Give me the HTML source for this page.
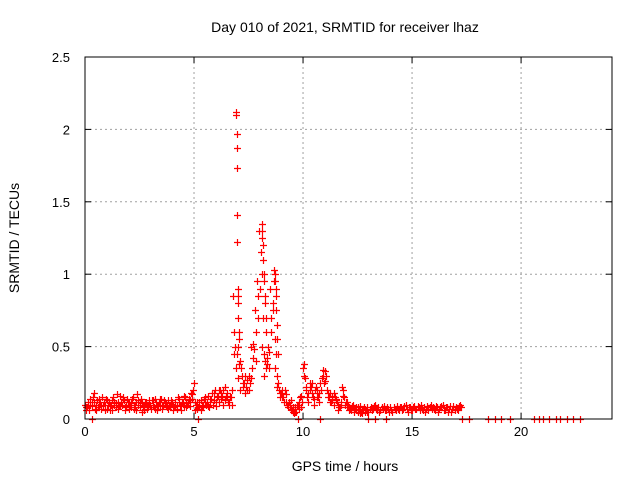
<!DOCTYPE html>
<html><head><meta charset="utf-8"><style>
body{margin:0;background:#fff;}
svg{display:block;font-family:"Liberation Sans",sans-serif;}
</style></head><body>
<svg id="chart" width="640" height="480" viewBox="0 0 640 480" xmlns="http://www.w3.org/2000/svg">
<text x="345" y="32" font-size="14" text-anchor="middle">Day 010 of 2021, SRMTID for receiver lhaz</text>
<g id="grid"></g>
<g id="ticks"></g>
<g id="marks"></g>
<rect x="85" y="57" width="527" height="362" fill="none" stroke="#000" stroke-width="1"/>
<text x="345" y="471" font-size="14" text-anchor="middle">GPS time / hours</text>
<text transform="translate(19,238) rotate(-90)" font-size="14" text-anchor="middle">SRMTID / TECUs</text>
</svg>
<script>
const xTicks=[0,5,10,15,20];
const yTicks=[0,0.5,1,1.5,2,2.5];
const yTickLabels=["0","0.5","1","1.5","2","2.5"];
const step=0.1;
const v1=[0.1,0.08,0.06,0.12,0.18,0.1,0.08,0.12,0.15,0.1,
0.07,0.12,0.1,0.15,0.08,0.12,0.16,0.1,0.13,0.09,
0.12,0.08,0.15,0.1,0.17,0.12,0.05,0.09,0.12,0.08,
0.1,0.13,0.07,0.1,0.12,0.14,0.09,0.11,0.13,0.1,
0.12,0.08,0.1,0.14,0.09,0.12,0.15,0.1,0.13,0.17,
0.25,0.1,0.08,0.13,0.1,0.15,0.12,0.08,0.14,0.18,
0.12,0.16,0.2,0.15,0.13,0.18,0.1,0.15,0.85,0.5,
0.5,0.4,0.3,0.25,0.22,0.3,0.5,0.42,0.75,0.95,
1.3,1.0,0.45,0.35,0.5,0.9,0.8,0.55,0.3,0.2,
0.18,0.15,0.12,0.08,0.1,0.06,0.04,0.05,0.12,0.08,
0.35,0.28,0.15,0.2,0.25,0.1,0.22,0.15,0.25,0.3,
0.33,0.2,0.15,0.12,0.18,0.14,0.1,0.08,0.22,0.15,
0.12,0.08,0.06,0.1,0.07,0.05,0.09,0.04,0.08,0.06,
0.05,0.08,0.07,0.1,0.06,0.05,0.08,0.09,0.06,0.07,
0.08,0.05,0.07,0.09,0.06,0.08,0.07,0.1,0.05,0.08,
0.06,0.09,0.07,0.08,0.1,0.06,0.05,0.09,0.08,0.07,
0.07,0.09,0.05,0.08,0.1,0.06,0.08,0.07,0.05,0.09,
0.08,0.06,0.1];
const v2=[0.08,0.12,0.1,0.15,0.07,0.13,0.1,0.09,0.12,0.14,
0.1,0.06,0.13,0.1,0.17,0.09,0.12,0.14,0.08,0.12,
0.1,0.14,0.07,0.12,0.1,0.14,0.08,0.12,0.07,0.11,
0.13,0.08,0.12,0.09,0.14,0.1,0.12,0.08,0.1,0.13,
0.09,0.12,0.15,0.1,0.12,0.16,0.11,0.14,0.18,0.2,
0.12,0.07,0.12,0.09,0.14,0.1,0.16,0.12,0.1,0.2,
0.15,0.12,0.18,0.2,0.16,0.12,0.15,0.2,0.6,0.45,
0.38,0.35,0.25,0.3,0.2,0.25,0.35,0.48,0.6,0.85,
1.15,0.7,0.4,0.42,0.35,0.7,0.95,0.45,0.25,0.18,
0.15,0.2,0.1,0.12,0.07,0.08,0.05,0.1,0.15,0.12,
0.3,0.2,0.18,0.22,0.15,0.2,0.15,0.12,0.28,0.25,
0.3,0.15,0.18,0.13,0.15,0.12,0.08,0.1,0.2,0.12,
0.1,0.07,0.08,0.06,0.08,0.07,0.05,0.06,0.07,0.05,
0.07,0.06,0.09,0.07,0.08,0.06,0.07,0.06,0.08,0.05,
0.06,0.08,0.06,0.07,0.08,0.06,0.09,0.07,0.08,0.06,
0.08,0.07,0.09,0.06,0.07,0.08,0.07,0.06,0.1,0.08,
0.06,0.08,0.07,0.09,0.06,0.08,0.05,0.09,0.07,0.06,
0.07,0.09,0.08];
const v3=[0.06,0.1,0.14,0.09,0.12,0.06,0.14,0.07,0.1,0.06,
0.13,0.09,0.06,0.12,0.11,0.07,0.09,0.15,0.06,0.14,
0.07,0.11,0.1,0.06,0.13,0.08,0.11,0.06,0.1,0.13,
0.07,0.1,0.14,0.06,0.09,0.07,0.13,0.1,0.07,0.12,
0.06,0.1,0.07,0.12,0.06,0.09,0.08,0.12,0.09,0.14,
0.06,0.12,0.1,0.06,0.08,0.12,0.09,0.14,0.18,0.13,
0.09,0.2,0.14,0.1,0.22,0.15,0.12,0.1,0.45,0.35,
0.28,0.2,0.22,0.18,0.27,0.2,0.28,0.52,0.4,0.7,
0.9,0.5,0.3,0.38,0.46,0.6,0.75,0.35,0.22,0.15,
0.2,0.12,0.17,0.1,0.13,0.05,0.08,0.1,0.07,0.16,
0.38,0.22,0.12,0.25,0.18,0.14,0.2,0.18,0.2,0.34,
0.26,0.18,0.12,0.16,0.1,0.13,0.06,0.12,0.16,0.1,
0.08,0.06,0.09,0.05,0.06,0.08,0.04,0.07,0.05,0.08];
const peakT=[6.93,6.94,6.95,6.96,6.97,6.98,6.99,7.0,7.02,7.03,7.04,7.06,7.08,
8.1,8.12,8.14,8.16,8.18,8.2,8.22,8.24,8.26,8.28,8.3,
8.68,8.7,8.72,8.74,8.76,8.78,8.8,8.82,8.84];
const peakV=[2.12,2.1,1.97,1.87,1.73,1.41,1.22,0.9,0.85,0.8,0.7,0.6,0.55,
1.35,1.3,1.25,1.2,1.1,1.0,0.95,0.85,0.8,0.7,0.6,
1.03,1.0,0.95,0.9,0.85,0.75,0.65,0.55,0.45];
const zeroT=[0.3,5.2,9.75,10.8,13.0,13.3,13.8,17.3,17.6,18.5,18.8,19.1,19.5,20.6,20.8,21.0,21.3,21.6,21.8,22.1,22.4,22.7];

const NS="http://www.w3.org/2000/svg";
const X0=85,X1=612,Y0=419,Y1=57,XMAX=24.17,YMAX=2.5;
const xs=t=>X0+(X1-X0)*t/XMAX;
const ys=v=>Y0-(Y0-Y1)*v/YMAX;
const grid=document.getElementById('grid');
const ticks=document.getElementById('ticks');
const marks=document.getElementById('marks');
function mk(tag,attrs,parent){const e=document.createElementNS(NS,tag);for(const k in attrs)e.setAttribute(k,attrs[k]);parent.appendChild(e);return e;}
xTicks.forEach(t=>{
  const x=xs(t);
  if(t>0){const g=mk('line',{x1:x,x2:x,y1:Y1,y2:Y0,stroke:'#a0a0a0','stroke-dasharray':'2,3'},grid);
  
  }
  const l=mk('text',{x:x,y:Y0+17,'font-size':13,'text-anchor':'middle'},ticks);
  
  
  l.textContent=String(t);
  mk('line',{x1:x,x2:x,y1:Y0,y2:Y0-6,stroke:'#000'},ticks);
  mk('line',{x1:x,x2:x,y1:Y1,y2:Y1+6,stroke:'#000'},ticks);
});
yTicks.forEach((v,i)=>{
  const y=ys(v);
  if(v>0&&v<YMAX){const g=mk('line',{x1:X0,x2:X1,y1:y,y2:y,stroke:'#a0a0a0','stroke-dasharray':'2,3'},grid);
  
  }
  const l=mk('text',{x:X0-15,y:y+5,'font-size':13,'text-anchor':'end'},ticks);
  
  
  l.textContent=yTickLabels[i];
  mk('line',{x1:X0,x2:X0+6,y1:y,y2:y,stroke:'#000'},ticks);
  mk('line',{x1:X1,x2:X1-6,y1:y,y2:y,stroke:'#000'},ticks);
});
let d='';
function plus(t,v){const x=Math.round(xs(t))+0.5,y=Math.round(ys(v))+0.5;d+=`M${x-3.5},${y}h7M${x},${y-3.5}v7`;}
v1.forEach((v,i)=>plus(i*step,v));
v2.forEach((v,i)=>plus(i*step+step/2,v));
v3.forEach((v,i)=>plus(i*step+step/4,v));
peakT.forEach((t,i)=>plus(t,peakV[i]));
zeroT.forEach(t=>plus(t,0));
const p=mk('path',{d:d,stroke:'#ff0000','stroke-width':1.2,fill:'none'},marks);


</script>
</body></html>
